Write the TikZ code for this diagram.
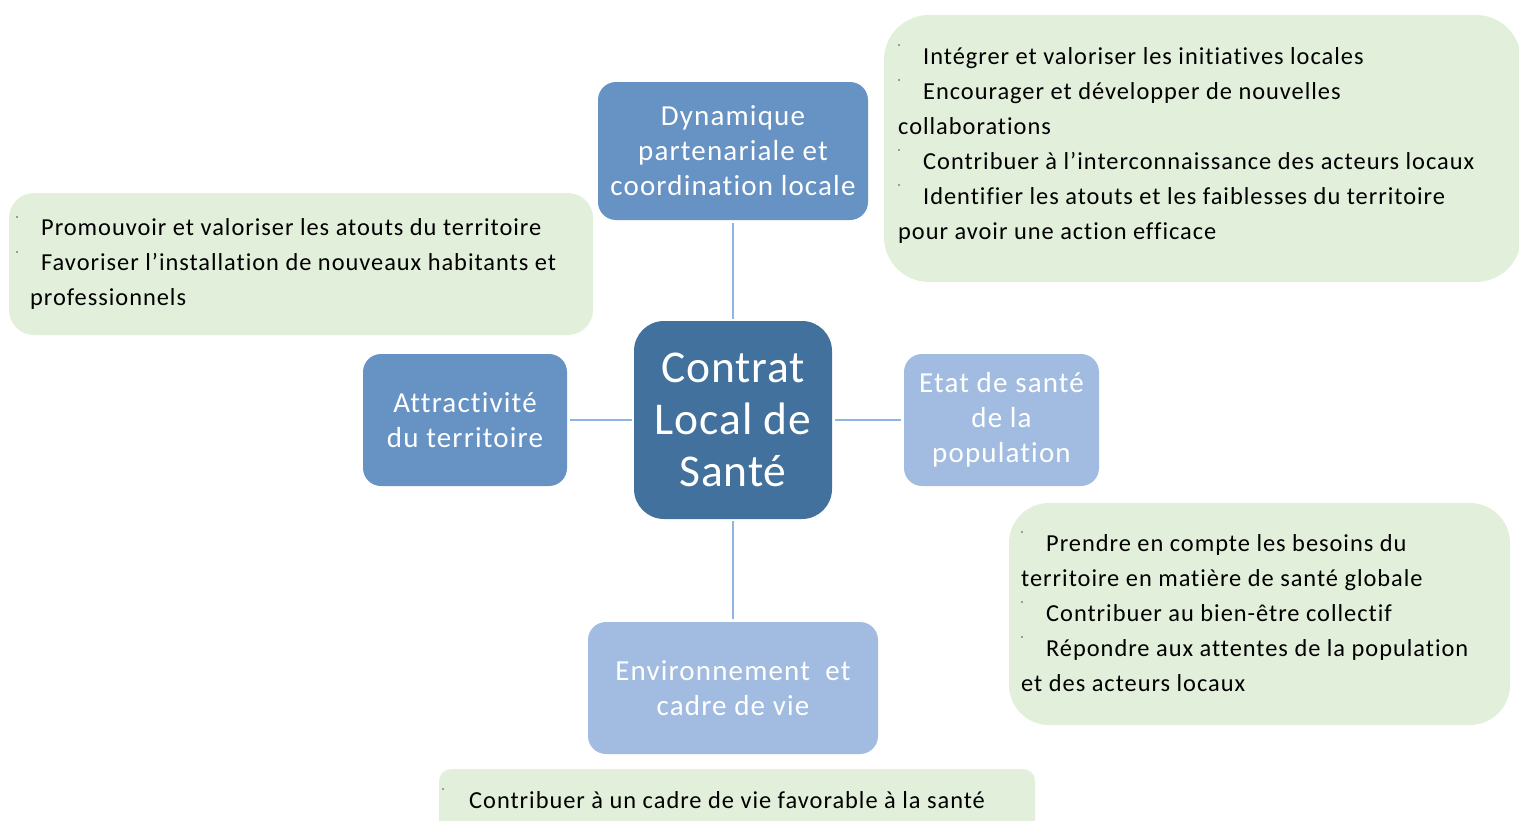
\documentclass[tikz,border=0pt]{standalone}
\usepackage{fontspec}
\setmainfont[Ligatures=NoCommon]{Carlito}
\newfontfamily\spacedfont[Ligatures=NoCommon, LetterSpace=4]{Carlito}
\newfontfamily\centerfont[Ligatures=NoCommon, LetterSpace=2]{Carlito}
\definecolor{midblue}{HTML}{6792C4}
\definecolor{darkblue}{HTML}{41719C}
\definecolor{lightblue}{HTML}{A1BCE0}
\definecolor{boxgreen}{HTML}{E2EFDA}
\definecolor{connblue}{HTML}{8EB4E3}
\begin{document}
\begin{tikzpicture}[x=1pt,y=-1pt,
  greenbox/.style={fill=boxgreen, draw=none, inner sep=0},
  bluebox/.style={draw=none, inner sep=0, text=white, align=center, rounded corners=18pt, font={\spacedfont\fontsize{29}{35}\selectfont}},
  txt/.style={anchor=base west, inner sep=0, font={\spacedfont\fontsize{24.4}{28}\selectfont}},
  dotmark/.style={circle, fill=black!70, inner sep=0, minimum size=1.6pt},
  conn/.style={draw=connblue, line width=2.5pt}]
\useasboundingbox (0,0) rectangle (1519,820);
\clip (0,0) rectangle (1519,820);

% green boxes
\node[greenbox, rounded corners=45pt, minimum width=637pt, minimum height=267pt] (gtr) at (1202.5,148.5) {};
\node[greenbox, rounded corners=25pt, minimum width=584pt, minimum height=142pt] (gl) at (301,264) {};
\node[greenbox, rounded corners=40pt, minimum width=501pt, minimum height=222pt] (gbr) at (1259.5,614) {};
\node[greenbox, rounded corners=12pt, minimum width=596pt, minimum height=100pt] (gb) at (737,819) {};

% blue boxes
\node[bluebox, fill=midblue, minimum width=270pt, minimum height=138pt] (dyn) at (733,151) {Dynamique\\partenariale et\\coordination locale};
\node[bluebox, fill=midblue, minimum width=204pt, minimum height=132pt] (attr) at (465,420) {Attractivité\\du territoire};
\node[bluebox, fill=darkblue, rounded corners=30pt, minimum width=198pt, minimum height=198pt, font={\centerfont\fontsize{45.5}{52}\selectfont}] (clc) at (733,420) {Contrat\\Local de\\Santé};
\node[bluebox, fill=lightblue, minimum width=195pt, minimum height=132pt] (etat) at (1001.5,420) {Etat de santé\\de la\\population};
\node[bluebox, fill=lightblue, minimum width=290pt, minimum height=132pt] (env) at (733,688) {Environnement\ \ et\\cadre de vie};

% connectors
\draw[conn, shorten <=3pt, shorten >=2pt] (dyn) -- (clc);
\draw[conn, shorten <=3pt, shorten >=2pt] (attr) -- (clc);
\draw[conn, shorten <=3pt, shorten >=3pt] (clc) -- (etat);
\draw[conn, shorten <=2pt, shorten >=3pt] (clc) -- (env);

% top-right text
\node[dotmark] (d1) at (899,45) {};
\node[txt] (t1) at (923,64) {Intégrer et valoriser les initiatives locales};
\node[dotmark] (d2) at (899,80) {};
\node[txt] (t2) at (923,99) {Encourager et développer de nouvelles};
\node[txt] (t3) at (898,134) {collaborations};
\node[dotmark] (d3) at (899,150) {};
\node[txt] (t4) at (923,169) {Contribuer à l’interconnaissance des acteurs locaux};
\node[dotmark] (d4) at (899,185) {};
\node[txt] (t5) at (923,204) {Identifier les atouts et les faiblesses du territoire};
\node[txt] (t6) at (898,239) {pour avoir une action efficace};

% left text
\node[dotmark] (d5) at (17,217) {};
\node[txt] (l1) at (41,235) {Promouvoir et valoriser les atouts du territoire};
\node[dotmark] (d6) at (17,252) {};
\node[txt] (l2) at (41,270) {Favoriser l’installation de nouveaux habitants et};
\node[txt] (l3) at (30,305) {professionnels};

% bottom-right text
\node[dotmark] (d7) at (1022,532) {};
\node[txt] (r1) at (1046,551) {Prendre en compte les besoins du};
\node[txt] (r2) at (1021,586) {territoire en matière de santé globale};
\node[dotmark] (d8) at (1022,602) {};
\node[txt] (r3) at (1046,621) {Contribuer au bien-être collectif};
\node[dotmark] (d9) at (1022,637) {};
\node[txt] (r4) at (1046,656) {Répondre aux attentes de la population};
\node[txt] (r5) at (1021,691) {et des acteurs locaux};

% bottom text
\node[dotmark] (d10) at (443,789) {};
\node[txt] (b1) at (469,808) {Contribuer à un cadre de vie favorable à la santé};
\end{tikzpicture}
\end{document}
